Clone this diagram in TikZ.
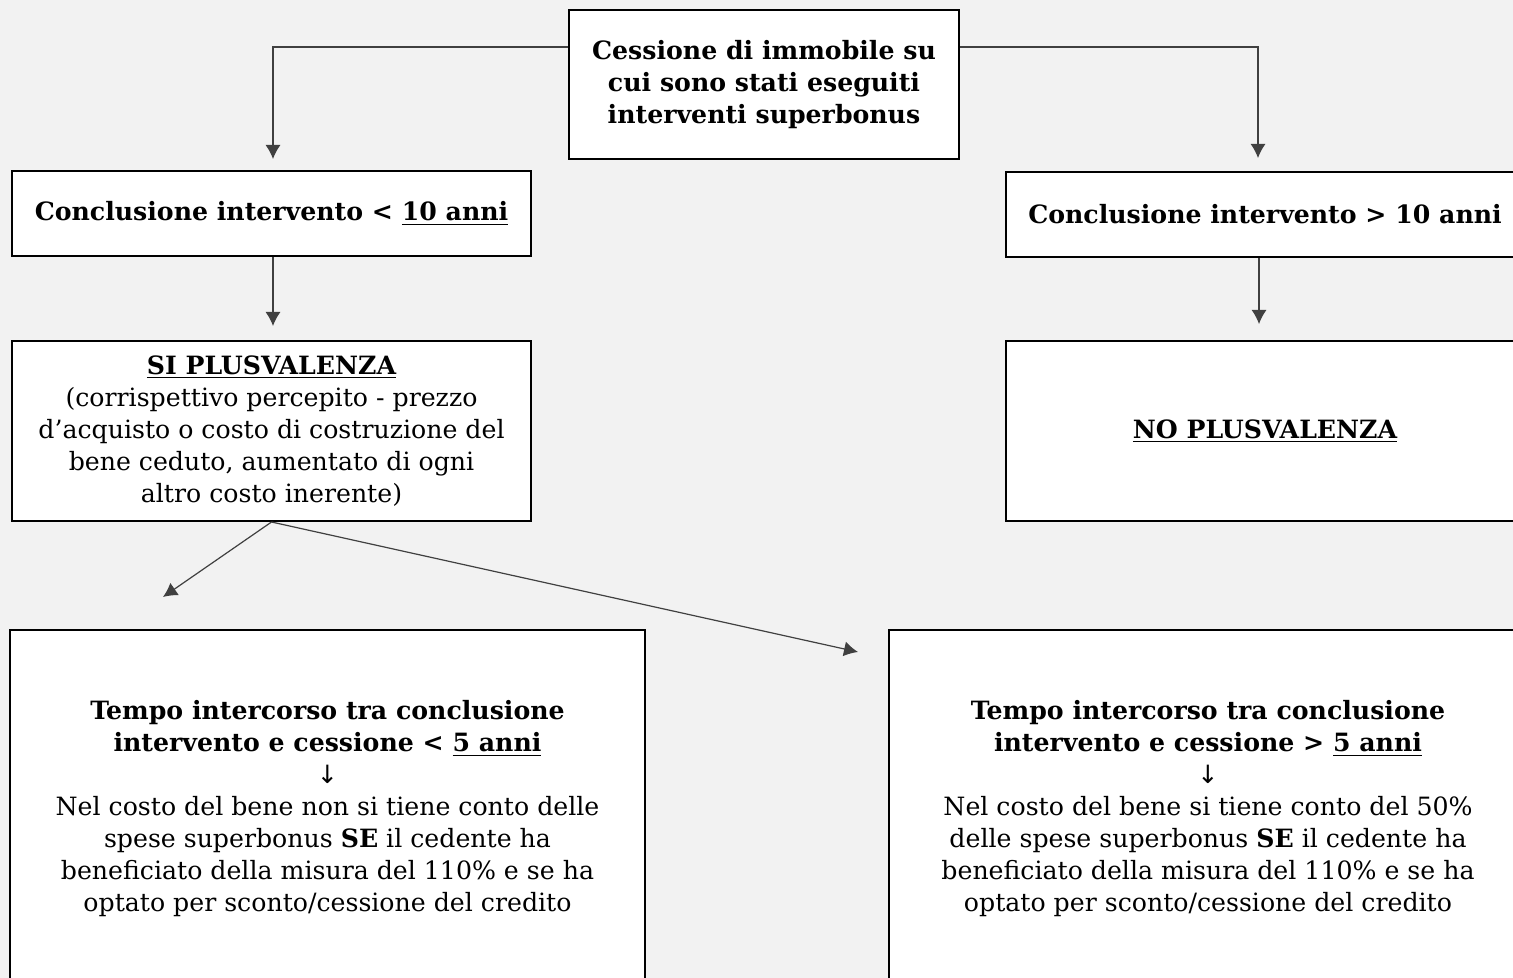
\documentclass[tikz,border=0pt]{standalone}
\usepackage{fontspec}
\setmainfont{DejaVu Serif}
\newfontfamily\arrowfont{DejaVu Sans}
\usetikzlibrary{arrows.meta}

\begin{document}
\begin{tikzpicture}[x=0.5pt,y=-0.5pt,
  box/.style={draw,line width=1pt,fill=white,align=center,
    font=\fontsize{12.6}{16}\selectfont},
  link/.style={draw=black!75,line width=0.6pt,-{Latex[length=7pt,width=7.5pt]}}]
\useasboundingbox (0,0) rectangle (1513,978);
\fill[black!5] (0,0) rectangle (1513,978);

\node [box,minimum width=195pt,minimum height=74.5pt] (cess) at (764,84.5)
  {\textbf{Cessione di immobile su}\\\textbf{cui sono stati eseguiti}\\\textbf{interventi superbonus}};
\node [box,minimum width=259.5pt,minimum height=42.5pt] (lt) at (271.5,213.5)
  {\textbf{Conclusione intervento < \underline{10 anni}}};
\node [box,minimum width=259.5pt,minimum height=42.5pt] (rt) at (1265,214.5)
  {\textbf{Conclusione intervento > 10 anni}};
\node [box,minimum width=259.5pt,minimum height=90pt] (si) at (271.5,431)
  {\textbf{\underline{SI PLUSVALENZA}}\\(corrispettivo percepito - prezzo\\d’acquisto o costo di costruzione del\\bene ceduto, aumentato di ogni\\altro costo inerente)};
\node [box,minimum width=259.5pt,minimum height=90pt] (no) at (1265,431)
  {\textbf{\underline{NO PLUSVALENZA}}};
\node [box,minimum width=317.5pt,minimum height=179pt] (bl) at (327.5,809)
  {\textbf{Tempo intercorso tra conclusione}\\\textbf{intervento e cessione < \underline{5 anni}}\\{\arrowfont ↓}\\Nel costo del bene non si tiene conto delle\\spese superbonus \textbf{SE} il cedente ha\\beneficiato della misura del 110\% e se ha\\optato per sconto/cessione del credito};
\node [box,minimum width=319pt,minimum height=179pt] (br) at (1208,809)
  {\textbf{Tempo intercorso tra conclusione}\\\textbf{intervento e cessione > \underline{5 anni}}\\{\arrowfont ↓}\\Nel costo del bene si tiene conto del 50\%\\delle spese superbonus \textbf{SE} il cedente ha\\beneficiato della misura del 110\% e se ha\\optato per sconto/cessione del credito};

% free ends of the two lower arrows
\coordinate (tipl) at (163,597);
\coordinate (tipr) at (858,652);

\draw[link] ([yshift=18.75pt]cess.west) -| ([xshift=0.75pt,yshift=5.5pt]lt.north);
\draw[link] ([yshift=18.75pt]cess.east) -| ([xshift=-3.5pt,yshift=6.5pt]rt.north);
\draw[link] ([xshift=0.75pt]lt.south) -- ([xshift=0.75pt,yshift=7pt]si.north);
\draw[link] ([xshift=-3pt]rt.south) -- ([xshift=-3pt,yshift=8pt]no.north);
\draw[link] (si.south) -- (tipl);
\draw[link] (si.south) -- (tipr);
\end{tikzpicture}
\end{document}
